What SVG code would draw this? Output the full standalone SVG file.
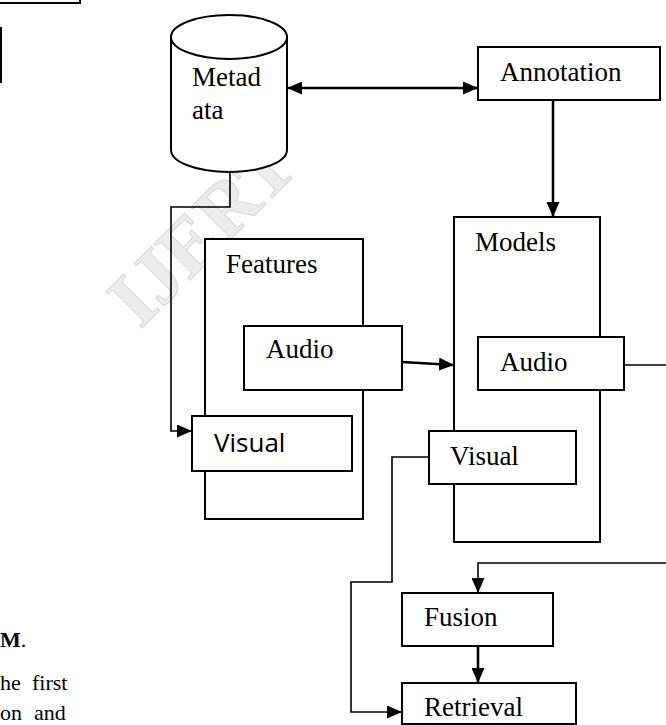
<svg xmlns="http://www.w3.org/2000/svg" width="666" height="725" viewBox="0 0 666 725">
<style>
.box{fill:#fff;stroke:#000;stroke-width:2}
.t{font-family:"Liberation Serif","Times New Roman",serif;font-size:27px;fill:#000}
.s{font-family:"Open Sans","Noto Sans",sans-serif;font-size:26px;fill:#000}
.thin{fill:none;stroke:#000;stroke-width:1.6}
.thick{fill:none;stroke:#000;stroke-width:2.6}
.wm{font-family:"Liberation Serif",serif;font-size:78px;fill:#ececec;stroke:#d6d6d6;stroke-width:1;font-weight:bold}
.pg{font-family:"Liberation Serif","Times New Roman",serif;font-size:22px;fill:#000}
</style>
<defs>
<marker id="ah" markerWidth="15" markerHeight="13" refX="15" refY="6.5" orient="auto" markerUnits="userSpaceOnUse">
<path d="M0,0 L15,6.5 L0,13 Z" fill="#000"/>
</marker>
<marker id="ahs" markerWidth="15" markerHeight="13" refX="0" refY="6.5" orient="auto" markerUnits="userSpaceOnUse">
<path d="M15,0 L0,6.5 L15,13 Z" fill="#000"/>
</marker>
</defs>
<rect width="666" height="725" fill="#fff"/>
<text class="wm" transform="translate(140,330) rotate(-45)">IJERT</text>
<g id="page-fragments">
<path d="M0,3 L80,3 L80,0" fill="none" stroke="#000" stroke-width="2"/>
<path d="M1,27 L1,83" fill="none" stroke="#000" stroke-width="2"/>
<text class="pg" x="0" y="647" font-size="20" font-weight="bold">M<tspan font-weight="normal">.</tspan></text>
<text class="pg" x="0" y="690">he</text>
<text class="pg" x="32" y="690">first</text>
<text class="pg" x="0" y="720">on</text>
<text class="pg" x="34" y="720">and</text>
</g>
<g id="features">
<rect class="box" x="205" y="239" width="158" height="280"/>
<text class="t" x="226" y="273">Features</text>
</g>
<g id="models">
<rect class="box" x="454" y="217" width="146" height="325"/>
<text class="t" x="475" y="251">Models</text>
</g>
<g id="connectors">
<path class="thin" d="M230,172 L230,207 L171,207 L171,431 L192,431" marker-end="url(#ah)"/>
<path class="thick" d="M287,88 L478,88" marker-start="url(#ahs)" marker-end="url(#ah)"/>
<path class="thick" d="M553,100 L553,217" marker-end="url(#ah)"/>
<path class="thick" d="M402,362 L454,365" marker-end="url(#ah)"/>
<path class="thin" d="M624,365 L666,365"/>
<path class="thin" d="M666,563 L478,563 L478,593" marker-end="url(#ah)"/>
<path class="thick" d="M478,646 L478,683" marker-end="url(#ah)"/>
<path class="thin" d="M429,457 L392,457 L392,582 L351,582 L351,712 L402,712" marker-end="url(#ah)"/>
</g>
<g id="metadata">
<path d="M171,37 L171,150 A58,22 0 0 0 287,150 L287,37" fill="#fff" stroke="#000" stroke-width="2"/>
<ellipse cx="229" cy="37" rx="58" ry="22" fill="#fff" stroke="#000" stroke-width="2"/>
<text class="t" x="192" y="86">Metad</text>
<text class="t" x="192" y="119">ata</text>
</g>
<g id="annotation">
<rect class="box" x="478" y="47" width="182" height="53"/>
<text class="t" x="500" y="81">Annotation</text>
</g>
<g id="features-audio">
<rect class="box" x="244" y="326" width="158" height="64"/>
<text class="t" x="266" y="358">Audio</text>
</g>
<g id="features-visual">
<rect class="box" x="192" y="416" width="160" height="55"/>
<text class="s" x="214" y="452">Visual</text>
</g>
<g id="models-audio">
<rect class="box" x="478" y="337" width="146" height="53"/>
<text class="t" x="500" y="371">Audio</text>
</g>
<g id="models-visual">
<rect class="box" x="429" y="431" width="147" height="53"/>
<text class="t" x="450" y="465">Visual</text>
</g>
<g id="fusion">
<rect class="box" x="402" y="593" width="151" height="53"/>
<text class="t" x="424" y="626">Fusion</text>
</g>
<g id="retrieval">
<rect class="box" x="402" y="683" width="174" height="41"/>
<text class="t" x="424" y="716">Retrieval</text>
</g>
</svg>
